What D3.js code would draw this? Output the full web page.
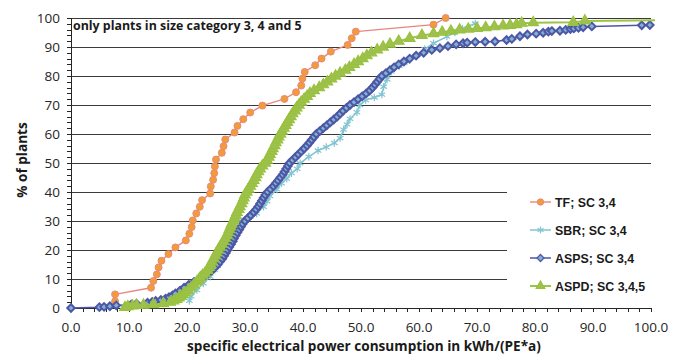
<!DOCTYPE html>
<html>
<head>
<meta charset="utf-8">
<script src="https://cdn.jsdelivr.net/npm/d3@7"></script>
<style>
  body { margin: 0; background: #fff; }
  svg { display: block; }
  .tick-label { font-family: "Open Sans", sans-serif; font-size: 13.5px; fill: #262626; }
  .axis-title { font-family: "Open Sans", sans-serif; font-size: 13.6px; font-weight: bold; fill: #1a1a1a; }
  .legend-text { font-family: "Liberation Sans", Arial, sans-serif; font-size: 12.4px; font-weight: bold; fill: #1a1a1a; }
</style>
</head>
<body>
<svg id="chartSVG" width="674" height="355"></svg>
<script>
// ---- data ----
var xTicks = [0, 10, 20, 30, 40, 50, 60, 70, 80, 90, 100];
var yTicks = [0, 10, 20, 30, 40, 50, 60, 70, 80, 90, 100];
var seriesNames = ["TF; SC 3,4", "SBR; SC 3,4", "ASPS; SC 3,4", "ASPD; SC 3,4,5"];

var tfX = [7.6, 7.6, 13.8, 14.2, 14.8, 15.1, 15.6, 16.8, 18.0, 19.8, 20.4, 20.8, 21.0, 21.6, 22.2, 22.6, 24.0, 24.1, 24.5, 24.7,
  24.8, 25.0, 26.0, 26.3, 26.6, 28.2, 28.7, 29.7, 30.9, 33.0, 36.8, 38.8, 39.7, 39.9, 40.3, 42.1, 43.2, 44.8, 47.7, 48.4,
  49.1, 62.5, 64.6];
var tfY = [2.3, 4.7, 7.0, 9.3, 11.6, 14.0, 16.3, 18.6, 20.9, 23.3, 25.6, 27.9, 30.2, 32.6, 34.9, 37.2, 39.5, 41.9, 44.2, 46.5,
  48.8, 51.2, 53.5, 55.8, 58.1, 60.5, 62.8, 65.1, 67.4, 69.8, 72.1, 74.4, 76.7, 79.1, 81.4, 83.7, 86.0, 88.4, 90.7, 93.0,
  95.3, 97.7, 100];

var sbrX = [20.4, 20.7, 21.7, 22.8, 24.0, 24.8, 25.3, 26.0, 26.6, 27.3, 27.6, 27.9, 28.1, 28.3, 30.9, 32.0, 33.2, 33.8, 34.3, 35.5,
  36.3, 37.2, 38.0, 39.0, 39.5, 41.0, 42.6, 44.0, 45.4, 46.4, 47.0, 47.6, 48.1, 49.3, 49.8, 50.8, 52.3, 53.6, 53.9, 54.5,
  55.2, 56.6, 57.9, 59.6, 61.0, 62.5, 64.8, 66.2, 67.5, 69.7];
var sbrY = [2.5, 4.0, 6.2, 8.5, 10.8, 13.1, 14.5, 16.6, 18.5, 20.5, 23.0, 25.5, 28.0, 30.3, 31.5, 32.6, 34.9, 36.8, 38.6, 40.9,
  43.0, 44.6, 46.5, 48.0, 49.9, 52.2, 54.3, 55.5, 56.9, 58.6, 61.5, 63.3, 65.2, 67.5, 70.0, 71.7, 72.6, 73.6, 76.3, 78.8,
  81.5, 83.5, 85.0, 87.2, 89.3, 91.3, 93.6, 95.0, 96.4, 98.1];

var aspsX = [0, 4.9, 5.7, 6.7, 7.8, 10.4, 11.3, 13.2, 14.0, 14.6, 15.5, 16.3, 16.9, 17.5, 18.0, 18.8, 19.5, 20.3, 21.2, 22.2,
  23.0, 23.7, 24.3, 24.8, 25.3, 25.7, 26.1, 26.4, 26.7, 27.0, 27.3, 27.6, 27.9, 28.1, 28.4, 28.7, 29.0, 29.3, 29.6, 30.0,
  30.5, 31.0, 31.5, 31.9, 32.3, 32.6, 32.9, 33.2, 33.5, 33.9, 34.4, 34.9, 35.3, 35.7, 36.1, 36.5, 36.8, 37.1, 37.4, 37.7,
  38.2, 38.7, 39.2, 39.7, 40.2, 40.7, 41.1, 41.5, 41.9, 42.3, 42.9, 43.5, 44.1, 44.7, 45.3, 45.9, 46.4, 46.9, 47.5, 48.1,
  48.8, 49.5, 50.2, 50.9, 51.5, 52.0, 52.4, 52.8, 53.2, 53.6, 54.3, 55.0, 55.7, 56.5, 57.4, 58.4, 59.5, 60.8, 62.2, 63.6,
  65.0, 66.4, 67.6, 68.3, 69.7, 71.4, 73.1, 75.1, 76.0, 77.4, 78.7, 80.2, 81.4, 82.3, 82.9, 84.3, 85.3, 86.1, 86.7, 87.5,
  88.3, 89.8, 98.4, 99.8];
var aspsY = [0, 0.3, 0.4, 0.6, 0.9, 1.2, 1.5, 1.8, 2.1, 2.4, 2.8, 3.2, 3.7, 4.3, 5.0, 6.0, 7.0, 8.0, 9.0, 10.0,
  11.0, 12.0, 13.0, 14.0, 15.0, 16.0, 17.0, 18.0, 19.0, 20.0, 21.0, 22.0, 23.0, 24.0, 25.0, 26.0, 27.0, 28.0, 29.0, 30.0,
  31.0, 32.0, 33.0, 34.0, 35.0, 36.0, 37.0, 38.0, 39.0, 40.0, 41.0, 42.0, 43.0, 44.0, 45.0, 46.0, 47.0, 48.0, 49.0, 50.0,
  51.0, 52.0, 53.0, 54.0, 55.0, 56.0, 57.0, 58.0, 59.0, 60.0, 61.0, 62.0, 63.0, 64.0, 65.0, 66.0, 67.0, 68.0, 69.0, 70.0,
  71.0, 72.0, 73.0, 74.0, 75.0, 76.0, 77.0, 78.0, 79.0, 80.0, 81.0, 82.0, 83.0, 84.0, 85.0, 86.0, 87.0, 88.0, 89.0, 89.6,
  90.3, 90.9, 91.3, 91.5, 91.7, 91.8, 91.9, 92.4, 92.8, 93.7, 94.3, 94.6, 94.9, 95.3, 95.5, 95.6, 95.9, 96.2, 96.4, 96.6,
  96.8, 97.1, 97.5, 97.6];

var aspdX = [9.3, 9.8, 10.6, 11.3, 12.5, 14.2, 15.9, 17.1, 17.7, 18.2, 18.6, 18.9, 19.3, 19.7, 20.2, 20.7, 21.2, 21.7, 22.0, 22.3,
  22.7, 23.1, 23.5, 23.8, 24.1, 24.3, 24.6, 24.9, 25.1, 25.4, 25.7, 26.0, 26.3, 26.6, 26.9, 27.1, 27.3, 27.5, 27.7, 28.0,
  28.2, 28.4, 28.6, 28.9, 29.1, 29.4, 29.6, 29.8, 30.0, 30.3, 30.6, 30.9, 31.2, 31.5, 31.8, 32.0, 32.3, 32.6, 33.0, 33.5,
  33.8, 34.1, 34.3, 34.6, 34.8, 35.1, 35.3, 35.6, 35.8, 36.1, 36.4, 36.7, 37.0, 37.3, 37.6, 37.9, 38.2, 38.6, 38.9, 39.3,
  39.7, 40.2, 40.7, 41.2, 41.9, 42.8, 43.5, 44.2, 44.9, 45.6, 46.4, 47.3, 48.0, 48.8, 49.5, 50.3, 51.0, 51.8, 52.8, 53.8,
  55.0, 56.5, 58.4, 60.5, 62.5, 64.0, 65.5, 67.0, 68.5, 70.0, 71.5, 73.0, 74.5, 75.7, 76.8, 77.7, 79.7, 86.6, 88.6, 112];
var aspdY = [0.2, 0.5, 0.7, 0.9, 1.0, 1.2, 1.5, 2.0, 2.5, 3.0, 3.5, 4.0, 4.6, 5.2, 6.0, 7.0, 8.0, 9.0, 9.7, 10.5,
  11.3, 12.0, 13.0, 14.0, 15.0, 16.0, 17.0, 18.0, 19.0, 20.0, 21.0, 22.0, 23.0, 24.0, 25.0, 26.0, 27.0, 28.0, 29.0, 30.0,
  31.0, 32.0, 33.0, 34.0, 35.0, 36.0, 37.0, 38.0, 39.0, 40.0, 41.0, 42.0, 43.0, 44.0, 45.0, 46.0, 47.0, 48.0, 49.0, 50.0,
  51.0, 52.0, 53.0, 54.0, 55.0, 56.0, 57.0, 58.0, 59.0, 60.0, 61.0, 62.0, 63.0, 64.0, 65.0, 66.0, 67.0, 68.0, 69.0, 70.0,
  71.0, 72.0, 73.0, 74.0, 75.0, 76.0, 77.0, 78.0, 79.0, 80.0, 81.0, 82.0, 83.0, 84.0, 85.0, 86.0, 87.0, 88.0, 89.0, 90.0,
  91.0, 92.0, 93.0, 94.0, 94.6, 95.1, 95.5, 95.9, 96.2, 96.4, 96.7, 97.0, 97.3, 97.5, 97.7, 98.2, 98.4, 98.5, 99.0, 99.4];

// ---- layout ----
var margin = {top: 18, left: 71};
var width = 580, height = 290;

var svg = d3.select("#chartSVG");
var g = svg.append("g").attr("transform", "translate(" + margin.left + "," + margin.top + ")");

var x = d3.scaleLinear().domain([0, 100]).range([0, width]);
var y = d3.scaleLinear().domain([0, 100]).range([height, 0]);

function zipPts(xs, ys) {
  return xs.map(function(v, i) { return {x: v, y: ys[i]}; });
}

var series = [
  {name: seriesNames[0], pts: zipPts(tfX, tfY), line: "#e8867c", lw: 1.4,
   sym: d3.symbolCircle, size: 38, fill: "#f19c38", stroke: "#e8897d", sw: 1},
  {name: seriesNames[1], pts: zipPts(sbrX, sbrY), line: "#80c5d1", lw: 1.5,
   sym: d3.symbolAsterisk || d3.symbolCross, size: 40, fill: "none", stroke: "#80c5d1", sw: 1.2},
  {name: seriesNames[2], pts: zipPts(aspsX, aspsY), line: "#4f56a6", lw: 1.5,
   sym: d3.symbolDiamond2 || d3.symbolDiamond, size: 36, fill: "#7cb4d2", stroke: "#4f56a6", sw: 2},
  {name: seriesNames[3], pts: zipPts(aspdX, aspdY), line: "#9bc442", lw: 2,
   sym: d3.symbolTriangle, size: 48, fill: "#9fc050", stroke: "#98c23c", sw: 1.2}
];

// gridlines
g.selectAll(".grid")
  .data(yTicks.filter(function(d) { return d > 0; }))
  .enter().append("line")
  .attr("x1", 0).attr("x2", width)
  .attr("y1", function(d) { return y(d); })
  .attr("y2", function(d) { return y(d); })
  .attr("stroke", "#3a3a3a").attr("stroke-width", 1)
  .attr("shape-rendering", "crispEdges");

// legend background hides the lower gridlines
var legX = 436, legY = 162;
g.append("rect")
  .attr("x", legX).attr("y", legY)
  .attr("width", 150).attr("height", 120)
  .attr("fill", "#fff");

// axes
var yAxis = d3.axisLeft(y).tickValues(d3.range(0, 101, 2)).tickSize(4).tickFormat("");
var xAxis = d3.axisBottom(x).tickValues(d3.range(0, 101, 2)).tickSize(4).tickFormat("");

g.append("g").call(yAxis)
  .call(function(s) { s.selectAll("path,line").attr("stroke", "#262626").attr("shape-rendering", "crispEdges"); });
g.append("g").attr("transform", "translate(0," + height + ")").call(xAxis)
  .call(function(s) { s.selectAll("path,line").attr("stroke", "#262626").attr("shape-rendering", "crispEdges"); });

g.selectAll(".ylab")
  .data(yTicks)
  .enter().append("text")
  .attr("class", "tick-label")
  .attr("x", -11)
  .attr("y", function(d) { return y(d) + 5; })
  .attr("text-anchor", "end")
  .text(function(d) { return d; });

g.selectAll(".xlab")
  .data(xTicks)
  .enter().append("text")
  .attr("class", "tick-label")
  .attr("x", function(d) { return x(d); })
  .attr("y", height + 24)
  .attr("text-anchor", "middle")
  .text(function(d) { return d.toFixed(1); });

// titles
svg.append("text")
  .attr("class", "axis-title")
  .attr("x", 364).attr("y", 351)
  .attr("text-anchor", "middle")
  .text("specific electrical power consumption in kWh/(PE*a)");

svg.append("text")
  .attr("class", "axis-title")
  .attr("transform", "translate(27,160) rotate(-90)")
  .attr("text-anchor", "middle")
  .text("% of plants");

g.append("text")
  .attr("class", "axis-title")
  .style("font-size", "12.4px")
  .attr("x", 2).attr("y", 12)
  .text("only plants in size category 3, 4 and 5");

// clip the curves at the right end of the x axis
svg.append("defs").append("clipPath").attr("id", "plotClip")
  .append("rect").attr("x", -20).attr("y", -20).attr("width", width + 24).attr("height", height + 40);

var lineGen = d3.line()
  .x(function(d) { return x(d.x); })
  .y(function(d) { return y(d.y); });

var plot = g.append("g").attr("clip-path", "url(#plotClip)");

series.forEach(function(s) {
  var sg = plot.append("g");
  sg.append("path")
    .attr("d", lineGen(s.pts))
    .attr("fill", "none")
    .attr("stroke", s.line)
    .attr("stroke-width", s.lw)
    .attr("stroke-linejoin", "round");
  sg.selectAll("path.mk")
    .data(s.pts)
    .enter().append("path")
    .attr("class", "mk")
    .attr("transform", function(d) { return "translate(" + x(d.x) + "," + y(d.y) + ")"; })
    .attr("d", d3.symbol().type(s.sym).size(s.size))
    .attr("fill", s.fill)
    .attr("stroke", s.stroke)
    .attr("stroke-width", s.sw);
});

// legend
var leg = svg.append("g");
series.forEach(function(s, i) {
  var ly = 202 + i * 28;
  leg.append("line")
    .attr("x1", 530).attr("x2", 551)
    .attr("y1", ly).attr("y2", ly)
    .attr("stroke", s.line).attr("stroke-width", s.lw);
  leg.append("path")
    .attr("transform", "translate(540.5," + ly + ")")
    .attr("d", d3.symbol().type(s.sym).size(Math.min(s.size, 32)))
    .attr("fill", s.fill)
    .attr("stroke", s.stroke)
    .attr("stroke-width", Math.min(s.sw, 1.2));
  leg.append("text")
    .attr("class", "legend-text")
    .attr("x", 555).attr("y", ly + 4.5)
    .text(s.name);
});
</script>
</body>
</html>
